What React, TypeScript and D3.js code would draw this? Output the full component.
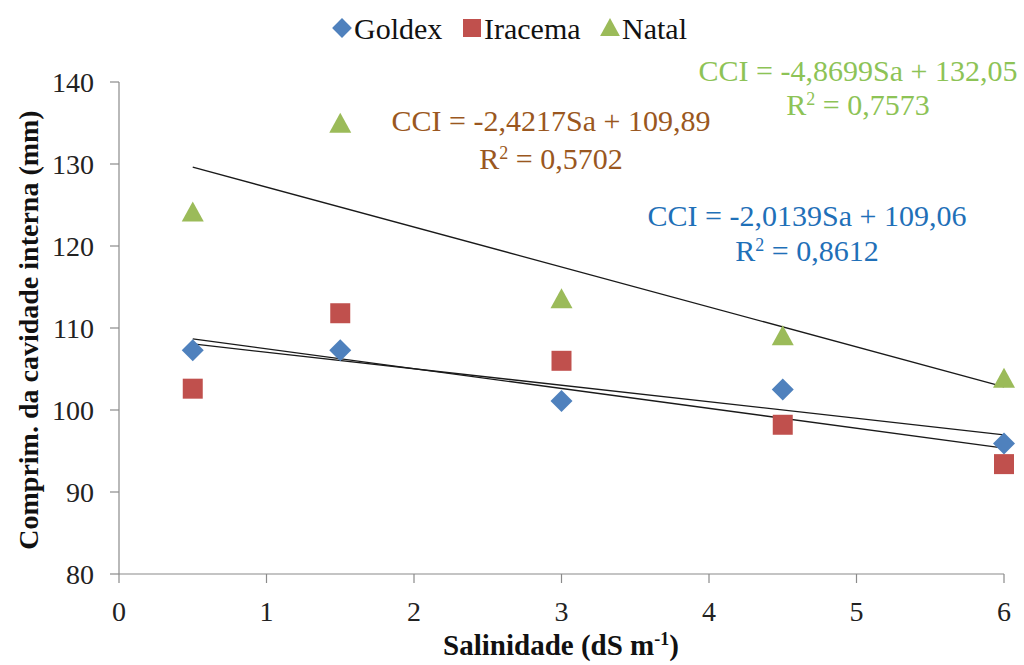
import React, { useEffect, useRef } from "react";
import * as d3 from "d3";

// Salinity levels (dS m-1)
const salinity = [0.5, 1.5, 3, 4.5, 6];
// Internal cavity length (mm) per cultivar
const goldex = [107.3, 107.3, 101.1, 102.5, 95.9];
const iracema = [102.6, 111.8, 106.0, 98.2, 93.4];
const natal = [124.1, 134.9, 113.5, 109.0, 103.8];

// Linear fits: CCI = slope * Sa + intercept
const fitSlopes = [-2.0139, -2.4217, -4.8699];
const fitIntercepts = [109.06, 109.89, 132.05];
const fitR2 = ["0,8612", "0,5702", "0,7573"];

const xTicks = [0, 1, 2, 3, 4, 5, 6];
const yTicks = [80, 90, 100, 110, 120, 130, 140];

const W = 1024;
const H = 665;

const FONT = "'Liberation Serif', 'Times New Roman', serif";

export default function App() {
  const svgRef = useRef<SVGSVGElement>(null);

  // force the Times-style face on every label
  useEffect(() => {
    if (!svgRef.current) return;
    d3.select(svgRef.current)
      .selectAll<SVGTextElement, unknown>("text, tspan")
      .attr("font-family", FONT)
      .style("font-family", FONT, "important");
  });

  const x = d3.scaleLinear().domain([0, 6]).range([119, 1004]);
  const y = d3.scaleLinear().domain([80, 140]).range([574, 82]);

  const series = [
    { name: "Goldex", values: goldex, color: "#4F81BD", shape: "diamond", text: "#1F70B8" },
    { name: "Iracema", values: iracema, color: "#C0504D", shape: "square", text: "#9A5720" },
    { name: "Natal", values: natal, color: "#9BBB59", shape: "triangle", text: "#8DC356" },
  ];

  const symbolPath = (shape: string, cx: number, cy: number, k = 1) => {
    if (shape === "diamond") {
      const r = 11 * k;
      return `M${cx},${cy - r}L${cx + r},${cy}L${cx},${cy + r}L${cx - r},${cy}Z`;
    }
    if (shape === "square") {
      const s = 10 * k;
      return `M${cx - s},${cy - s}H${cx + s}V${cy + s}H${cx - s}Z`;
    }
    const w = 11 * k;
    const h = 20 * k;
    return `M${cx},${cy - h * 0.55}L${cx + w},${cy + h * 0.45}L${cx - w},${cy + h * 0.45}Z`;
  };

  const axisColor = "#8a8a8a";

  // Equation label centres
  const eqPos = [
    { cx: 807, cy: 215, dy: 35 },
    { cx: 551, cy: 120, dy: 38 },
    { cx: 858, cy: 70, dy: 34 },
  ];

  const fmt = (v: number, digits: number) => v.toFixed(digits).replace(".", ",");

  const legendX = [342, 472, 610];

  return (
    <svg
      ref={svgRef}
      width={W}
      height={H}
      style={{ position: "absolute", left: 0, top: 0, background: "#fff" }}
    >
      <rect width={W} height={H} fill="#fff" />

      {/* axes */}
      <line x1={x(0)} x2={x(0)} y1={y(140)} y2={y(80)} stroke={axisColor} strokeWidth={1.2} />
      <line x1={x(0)} x2={x(6)} y1={y(80)} y2={y(80)} stroke={axisColor} strokeWidth={1.2} />
      {yTicks.map((t) => (
        <g key={"y" + t}>
          <line x1={x(0) - 9} x2={x(0)} y1={y(t)} y2={y(t)} stroke={axisColor} strokeWidth={1.2} />
          <text x={94} y={y(t)} dy="0.35em" textAnchor="end" fontSize={28} fill="#222">
            {t}
          </text>
        </g>
      ))}
      {xTicks.map((t) => (
        <g key={"x" + t}>
          <line x1={x(t)} x2={x(t)} y1={y(80)} y2={y(80) + 9} stroke={axisColor} strokeWidth={1.2} />
          <text x={x(t)} y={611} dy="0.35em" textAnchor="middle" fontSize={28} fill="#222">
            {t}
          </text>
        </g>
      ))}

      {/* axis titles */}
      <text
        transform={`translate(38,330) rotate(-90)`}
        textAnchor="middle"
        fontSize={28}
        fontWeight="bold"
        fill="#111"
      >
        Comprim. da cavidade interna (mm)
      </text>
      <text x={561} y={655} textAnchor="middle" fontSize={29} fontWeight="bold" fill="#111">
        Salinidade (dS m<tspan dy={-10} fontSize={18}>-1</tspan>
        <tspan dy={10}>)</tspan>
      </text>

      {/* trend lines */}
      {fitSlopes.map((m, i) => {
        const x0 = salinity[0];
        const x1 = salinity[salinity.length - 1];
        return (
          <line
            key={"fit" + i}
            x1={x(x0)}
            y1={y(m * x0 + fitIntercepts[i])}
            x2={x(x1)}
            y2={y(m * x1 + fitIntercepts[i])}
            stroke="#1a1a1a"
            strokeWidth={1.3}
          />
        );
      })}

      {/* markers */}
      {series.map((s) =>
        s.values.map((v, j) => (
          <path key={s.name + j} d={symbolPath(s.shape, x(salinity[j]), y(v))} fill={s.color} />
        ))
      )}

      {/* equations */}
      {series.map((s, i) => (
        <g key={"eq" + i} fill={s.text} fontSize={30}>
          <text x={eqPos[i].cx} y={eqPos[i].cy} dy="0.35em" textAnchor="middle">
            {`CCI = ${fmt(fitSlopes[i], 4)}Sa + ${fmt(fitIntercepts[i], 2)}`}
          </text>
          <text x={eqPos[i].cx} y={eqPos[i].cy + eqPos[i].dy} dy="0.35em" textAnchor="middle">
            R<tspan dy={-10} fontSize={18}>2</tspan>
            <tspan dy={10}>{` = ${fitR2[i]}`}</tspan>
          </text>
        </g>
      ))}

      {/* legend */}
      {series.map((s, i) => (
        <g key={"lg" + i}>
          <path d={symbolPath(s.shape, legendX[i], 28, 0.9)} fill={s.color} />
          <text x={legendX[i] + 12} y={28} dy="0.35em" fontSize={30} fill="#111">
            {s.name}
          </text>
        </g>
      ))}
    </svg>
  );
}
